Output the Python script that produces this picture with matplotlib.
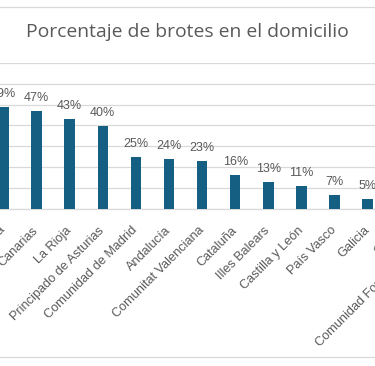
import matplotlib
matplotlib.use("Agg")
import matplotlib.pyplot as plt
from matplotlib.lines import Line2D

regiones = ["Región de Murcia", "Canarias", "La Rioja", "Principado de Asturias",
            "Comunidad de Madrid", "Andalucía", "Comunitat Valenciana", "Cataluña",
            "Illes Balears", "Castilla y León", "País Vasco", "Galicia",
            "Ceuta", "Comunidad Foral de Navarra"]
porcentaje = [48.7, 46.7, 42.9, 39.8, 24.6, 23.6, 22.6, 16.0, 12.8, 10.9, 6.6, 4.6, 3.0, 2.0]
titulo = "Porcentaje de brotes en el domicilio"

gris = "#595959"
linea = "#d9d9d9"
azul = "#156082"

fig = plt.figure(figsize=(3.75, 3.66), dpi=100)
W, H = 375, 366
ax = fig.add_axes([0, (H - 208.5) / H, 1, (208.5 - 62.9) / H])

x = list(range(len(regiones)))
ax.bar(x, porcentaje, width=0.317, color=azul, zorder=3)
ax.set_xticks([])
ax.set_xlim((0 - 3.5) / 33.1, (W - 3.5) / 33.1)
ax.set_ylim(0, 70)
ax.set_yticks(range(0, 71, 10))
ax.yaxis.grid(True, color=linea, linewidth=0.9, zorder=0)
ax.tick_params(axis="y", left=False, labelleft=False)
for s in ["left", "right", "top"]:
    ax.spines[s].set_visible(False)
ax.spines["bottom"].set_color(linea)
ax.spines["bottom"].set_linewidth(0.9)

# etiquetas de categoria (a mano para que se vea tambien la cortada a la derecha)
for xi, r in zip(x, regiones):
    ax.annotate(r, (xi, 0), xytext=(0, -14.5), textcoords="offset points",
                rotation=45, rotation_mode="anchor", ha="right", va="center",
                fontsize=9.2, color=gris, family="Liberation Sans",
                annotation_clip=False)

for xi, v in zip(x, porcentaje):
    ax.annotate(f"{round(v)}%", (xi, v), xytext=(0, 7.2), textcoords="offset points",
                ha="center", va="baseline", fontsize=9, color=gris,
                family="Liberation Sans")

fig.text(187 / W, 1 - 32 / H, titulo, ha="center", va="center",
         fontsize=13.85, color=gris, family="Open Sans")

for yy in (7.3, 356.5):
    fig.add_artist(Line2D([0, 1], [1 - yy / H, 1 - yy / H], color=linea, linewidth=0.9))

fig.savefig("out.png", dpi=100)
